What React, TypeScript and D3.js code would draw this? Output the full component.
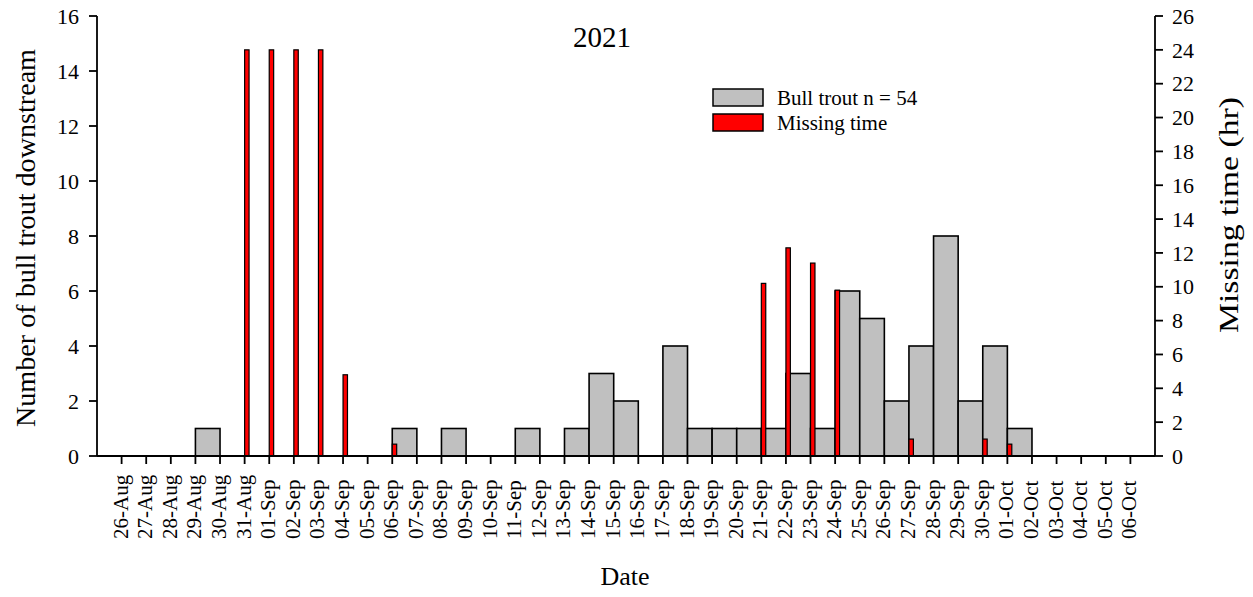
import * as d3 from 'd3'

const dates = [
  '26-Aug', '27-Aug', '28-Aug', '29-Aug', '30-Aug', '31-Aug',
  '01-Sep', '02-Sep', '03-Sep', '04-Sep', '05-Sep', '06-Sep', '07-Sep', '08-Sep', '09-Sep', '10-Sep',
  '11-Sep', '12-Sep', '13-Sep', '14-Sep', '15-Sep', '16-Sep', '17-Sep', '18-Sep', '19-Sep', '20-Sep',
  '21-Sep', '22-Sep', '23-Sep', '24-Sep', '25-Sep', '26-Sep', '27-Sep', '28-Sep', '29-Sep', '30-Sep',
  '01-Oct', '02-Oct', '03-Oct', '04-Oct', '05-Oct', '06-Oct',
]

// bull trout counts per day (same order as dates)
const troutCounts = [
  0, 0, 0, 1, 0, 0,
  0, 0, 0, 0, 0, 1, 0, 1, 0, 0,
  1, 0, 1, 3, 2, 0, 4, 1, 1, 1,
  1, 3, 1, 6, 5, 2, 4, 8, 2, 4,
  1, 0, 0, 0, 0, 0,
]

// missing time in hours per day
const missingHours = [
  0, 0, 0, 0, 0, 24,
  24, 24, 24, 4.8, 0, 0.7, 0, 0, 0, 0,
  0, 0, 0, 0, 0, 0, 0, 0, 0, 0,
  10.2, 12.3, 11.4, 9.8, 0, 0, 1.0, 0, 0, 1.0,
  0.7, 0, 0, 0, 0, 0,
]

const leftTicks = [0, 2, 4, 6, 8, 10, 12, 14, 16]
const rightTicks = [0, 2, 4, 6, 8, 10, 12, 14, 16, 18, 20, 22, 24, 26]

const W = 1253
const H = 597
const plot = { left: 97, right: 1155, top: 16, bottom: 456 }
const font = '"Liberation Serif", "Times New Roman", serif'

const x = d3.scaleLinear().domain([-1, 42]).range([plot.left, plot.right])
const yL = d3.scaleLinear().domain([0, 16]).range([plot.bottom, plot.top])
const yR = d3.scaleLinear().domain([0, 26]).range([plot.bottom, plot.top])
const redWidth = 0.18

export default function App() {
  return (
    <svg
      width={W}
      height={H}
      style={{ position: 'absolute', left: 0, top: 0, background: '#fff' }}
      fontFamily={font}
    >
      {/* trout count bars */}
      {troutCounts.map((v, i) =>
        v > 0 ? (
          <rect
            key={'t' + i}
            x={x(i)}
            y={yL(v)}
            width={x(i + 1) - x(i)}
            height={yL(0) - yL(v)}
            fill="#c0c0c0"
            stroke="#000"
            strokeWidth={1.6}
          />
        ) : null
      )}
      {/* missing time bars */}
      {missingHours.map((v, i) =>
        v > 0 ? (
          <rect
            key={'m' + i}
            x={x(i)}
            y={yR(v)}
            width={x(i + redWidth) - x(i)}
            height={yR(0) - yR(v)}
            fill="#ff0000"
            stroke="#000"
            strokeWidth={1.2}
          />
        ) : null
      )}

      {/* axes lines */}
      <g stroke="#000" strokeWidth={1.8} fill="none">
        <line x1={plot.left} x2={plot.right} y1={plot.bottom} y2={plot.bottom} />
        <line x1={plot.left} x2={plot.left} y1={plot.top} y2={plot.bottom} />
        <line x1={plot.right} x2={plot.right} y1={plot.top} y2={plot.bottom} />
        {dates.map((d, i) => (
          <line key={d} x1={x(i)} x2={x(i)} y1={plot.bottom} y2={plot.bottom + 8} />
        ))}
        {leftTicks.map((t) => (
          <line key={'l' + t} x1={plot.left - 8} x2={plot.left} y1={yL(t)} y2={yL(t)} />
        ))}
        {rightTicks.map((t) => (
          <line key={'r' + t} x1={plot.right} x2={plot.right + 8} y1={yR(t)} y2={yR(t)} />
        ))}
      </g>

      {/* tick labels */}
      <g fontSize={22} fill="#000">
        {leftTicks.map((t) => (
          <text key={'lt' + t} x={plot.left - 18} y={yL(t)} textAnchor="end" dy="0.35em">
            {t}
          </text>
        ))}
        {rightTicks.map((t) => (
          <text key={'rt' + t} x={plot.right + 17} y={yR(t)} dy="0.35em">
            {t}
          </text>
        ))}
      </g>
      <g fontSize={21} fill="#000">
        {dates.map((d, i) => (
          <text key={'dt' + d} transform={`translate(${x(i) + 6},539) rotate(-90)`}>
            {d}
          </text>
        ))}
      </g>

      {/* titles */}
      <text x={602} y={47} fontSize={29} textAnchor="middle">2021</text>
      <text x={625} y={585} fontSize={26} textAnchor="middle">Date</text>
      <text
        transform="translate(35,238) rotate(-90)"
        fontSize={28}
        textAnchor="middle"
        textLength={378}
        lengthAdjust="spacingAndGlyphs"
      >
        Number of bull trout downstream
      </text>
      <text
        transform="translate(1238,215) rotate(-90)"
        fontSize={27}
        textAnchor="middle"
        textLength={236}
        lengthAdjust="spacingAndGlyphs"
      >
        Missing time (hr)
      </text>

      {/* legend */}
      <rect x={713} y={89} width={50} height={17} fill="#c0c0c0" stroke="#000" strokeWidth={1.5} />
      <text x={777} y={105} fontSize={21}>Bull trout n = 54</text>
      <rect x={713} y={114} width={50} height={17} fill="#ff0000" stroke="#000" strokeWidth={1.5} />
      <text x={777} y={130} fontSize={21}>Missing time</text>
    </svg>
  )
}
